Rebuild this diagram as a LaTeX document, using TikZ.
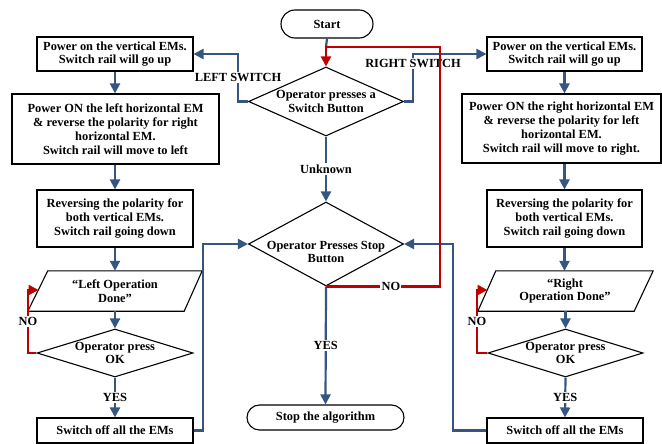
\documentclass[tikz,border=0pt]{standalone}
\usepackage{fontspec}
\setmainfont{Liberation Serif}
\usetikzlibrary{arrows.meta,shapes.geometric}
\definecolor{flowblue}{RGB}{52,86,128}
\definecolor{flowred}{RGB}{192,0,0}
\begin{document}
\begin{tikzpicture}[x=1pt,y=-1pt,
  every node/.style={font=\fontsize{12.4}{13.8}\selectfont\bfseries, inner sep=0pt},
  box/.style={draw, line width=1.1pt, fill=white, align=center, rectangle},
  dec/.style={draw, line width=1.1pt, fill=white, diamond, inner sep=0pt},
  paranode/.style={align=center, rectangle},
  paraline/.style={draw, line width=1.1pt, fill=white},
  flow/.style={draw=flowblue, line width=2.2pt, -{Triangle[length=10pt,width=10pt]}},
  flowline/.style={draw=flowblue, line width=2.2pt},
  noflow/.style={draw=flowred, line width=2.2pt, -{Triangle[length=10pt,width=10pt]}},
  lbl/.style={fill=white, inner sep=1.2pt, text=black},
]
\useasboundingbox (0,0) rectangle (662,444);
\fill[white] (0,0) rectangle (662,444);

% centre column
\node[box, rounded corners=14pt, minimum width=92pt, minimum height=28pt] (start) at (327,24) {Start};
\node[dec, minimum width=155pt, minimum height=69pt,
      label={[align=center]center:Operator presses a\\Switch Button}] (d1) at (326,101.5) {};
\node[dec, minimum width=155pt, minimum height=84pt,
      label={[align=center,yshift=-8pt]center:Operator Presses Stop\\Button}] (d2) at (326,244) {};
\node[box, rounded corners=12.5pt, minimum width=157pt, minimum height=25pt] (stop) at (325.5,417.5) {Stop the algorithm};

% left column
\node[box, minimum width=156pt, minimum height=34pt] (L1) at (115,54) {Power on the vertical EMs.\\Switch rail will go up};
\node[box, minimum width=207pt, minimum height=70pt] (L2) at (115.5,129) {Power ON the left horizontal EM\\\& reverse the polarity for right\\horizontal EM.\\Switch rail will move to left};
\node[box, minimum width=156pt, minimum height=57pt] (L3) at (115,218.5) {Reversing the polarity for\\both vertical EMs.\\Switch rail going down};
\node[paranode, minimum width=174pt, minimum height=40pt] (lp) at (115,291) {};
\path[paraline] ([xshift=20pt]lp.north west) -- (lp.north east) -- ([xshift=-18pt]lp.south east) -- (lp.south west) -- cycle;
\node[align=center] (lpt) at (115,291) {``Left Operation\\Done''};
\node[dec, minimum width=156pt, minimum height=48pt,
      label={[align=center]center:Operator press\\OK}] (LD) at (115,353) {};
\node[box, minimum width=156pt, minimum height=25pt] (L5) at (115,430.5) {Switch off all the EMs};

% right column
\node[box, minimum width=155pt, minimum height=34pt] (R1) at (564.5,54) {Power on the vertical EMs.\\Switch rail will go up};
\node[box, minimum width=199pt, minimum height=69pt] (R2) at (561.5,128.5) {Power ON the right horizontal EM\\\& reverse the polarity for left\\horizontal EM.\\Switch rail will move to right.};
\node[box, minimum width=155pt, minimum height=57pt] (R3) at (564.5,218.5) {Reversing the polarity for\\both vertical EMs.\\Switch rail going down};
\node[paranode, minimum width=175pt, minimum height=40pt] (rp) at (565.5,291) {};
\path[paraline] ([xshift=18pt]rp.north west) -- (rp.north east) -- ([xshift=-19pt]rp.south east) -- (rp.south west) -- cycle;
\node[align=center] (rpt) at (565,291) {``Right\\Operation Done''};
\node[dec, minimum width=155pt, minimum height=48pt,
      label={[align=center]center:Operator press\\OK}] (RD) at (565.5,353) {};
\node[box, minimum width=156pt, minimum height=25pt] (R5) at (565,430.5) {Switch off all the EMs};

% helper coordinates
\coordinate (jn) at (326,47);
\coordinate (rc) at (440,47);
\coordinate (lx) at (238,54);
\coordinate (rx) at (413,54);
\coordinate (lc) at (203,244);
\coordinate (rcx) at (453,244);
\coordinate (lpl) at (28,290);
\coordinate (lpe) at (38.5,290);
\coordinate (rpl) at (477,290);
\coordinate (rpe) at (487.5,290);

% blue connectors
\draw[flowline] (start.south) -- (jn);
\draw[flow] (d1.west) -| node[lbl,pos=0.75]{LEFT SWITCH} (lx) -- (L1.east);
\draw[flow] (d1.east) -| node[lbl,pos=0.9]{RIGHT SWITCH} (rx) -- (R1.west);
\draw[flow] (d1.south) -- node[lbl]{Unknown} (d2.north);
\draw[flow] (d2.south) -- node[lbl]{YES} (stop.north);

\draw[flow] (L1.south) -- (L1.south |- L2.north);
\draw[flow] (L3.north |- L2.south) -- (L3.north);
\draw[flow] (L3.south) -- (L3.south |- lp.north);
\draw[flow] (LD.north |- lp.south) -- (LD.north);
\draw[flow] (LD.south) -- node[lbl]{YES} (L5.north);
\draw[flow] (L5.east) -| (lc) -- (d2.west);

\draw[flow] (R1.south) -- (R1.south |- R2.north);
\draw[flow] (R3.north |- R2.south) -- (R3.north);
\draw[flow] (R3.south) -- (R3.south |- rp.north);
\draw[flow] (RD.north |- rp.south) -- (RD.north);
\draw[flow] (RD.south) -- node[lbl]{YES} (R5.north);
\draw[flow] (R5.west) -| (rcx) -- (d2.east);

% red connectors
\draw[noflow] (d2.south) -- node[lbl,pos=0.57]{NO} (d2.south -| rc) -- (rc) -- (jn) -- (d1.north);
\draw[noflow] (LD.west) -| node[lbl,pos=0.75]{NO} (lpl) -- (lpe);
\draw[noflow] (RD.west) -| node[lbl,pos=0.75]{NO} (rpl) -- (rpe);
\end{tikzpicture}
\end{document}
